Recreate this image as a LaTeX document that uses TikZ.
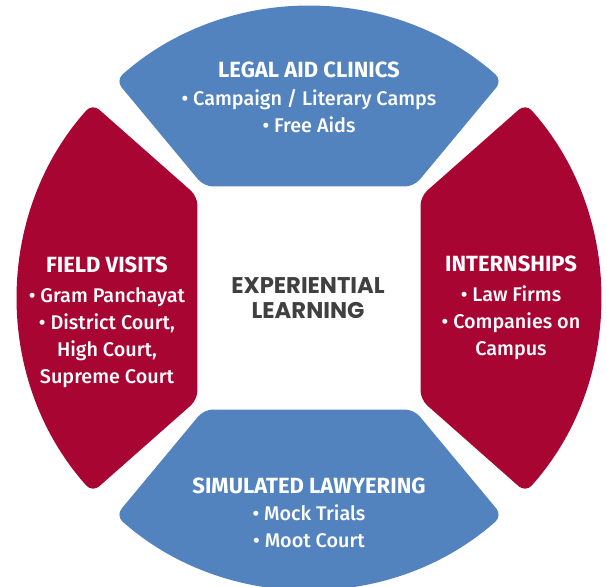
\documentclass[tikz,border=0pt]{standalone}
\usepackage{fontspec}
\setmainfont{Fira Sans Medium}[BoldFont={Fira Sans Bold}]
\newfontfamily\centrefont{Poppins}
\definecolor{segblue}{HTML}{5383BF}
\definecolor{segred}{HTML}{A80532}
\definecolor{centregray}{HTML}{404040}
\newcommand{\segtitle}[1]{{\bfseries\fontsize{22}{27}\selectfont #1}}
\begin{document}
\begin{tikzpicture}[x=1pt,y=1pt,
  seg/.style={rounded corners=9pt},
  seglabel/.style={text=white,align=center,anchor=base,inner sep=0pt,font=\fontsize{19.8}{27}\selectfont},
  ]
\useasboundingbox (-309,-288) rectangle (298,298);
\def\R{291}
% four parts of the ring
\fill[segblue,seg] (-105,111.5) -- (131.6:\R) arc[start angle=131.6,end angle=48.4,radius=\R] -- (105,111.5) -- cycle;
\fill[segblue,seg] (105,-111.5) -- (311.6:\R) arc[start angle=311.6,end angle=228.4,radius=\R] -- (-105,-111.5) -- cycle;
\fill[segred,seg] (-111.5,-101.5) -- (221.9:\R) arc[start angle=221.9,end angle=138.1,radius=\R] -- (-111.5,101.5) -- cycle;
\fill[segred,seg] (111.5,101.5) -- (41.9:\R) arc[start angle=41.9,end angle=-41.9,radius=\R] -- (111.5,-101.5) -- cycle;
% labels
\node[seglabel] (clinics) at (0,165) {\segtitle{LEGAL AID CLINICS}\\[1pt]• Campaign / Literary Camps\\• Free Aids};
\node[seglabel] (visits) at (-202,-85) {\segtitle{FIELD VISITS}\\[3pt]• Gram Panchayat\\• District Court,\\High Court,\\Supreme Court};
\node[seglabel] (intern) at (202,-57) {\segtitle{INTERNSHIPS}\\[3pt]• Law Firms\\• Companies on\\Campus};
\node[seglabel] (lawyer) at (0,-249) {\segtitle{SIMULATED LAWYERING}\\• Mock Trials\\• Moot Court};
\node[anchor=base,align=center,inner sep=0pt,text=centregray,font=\centrefont\bfseries\fontsize{22.7}{25}\selectfont] (centre) at (-1,-20) {EXPERIENTIAL\\LEARNING};
\end{tikzpicture}
\end{document}
